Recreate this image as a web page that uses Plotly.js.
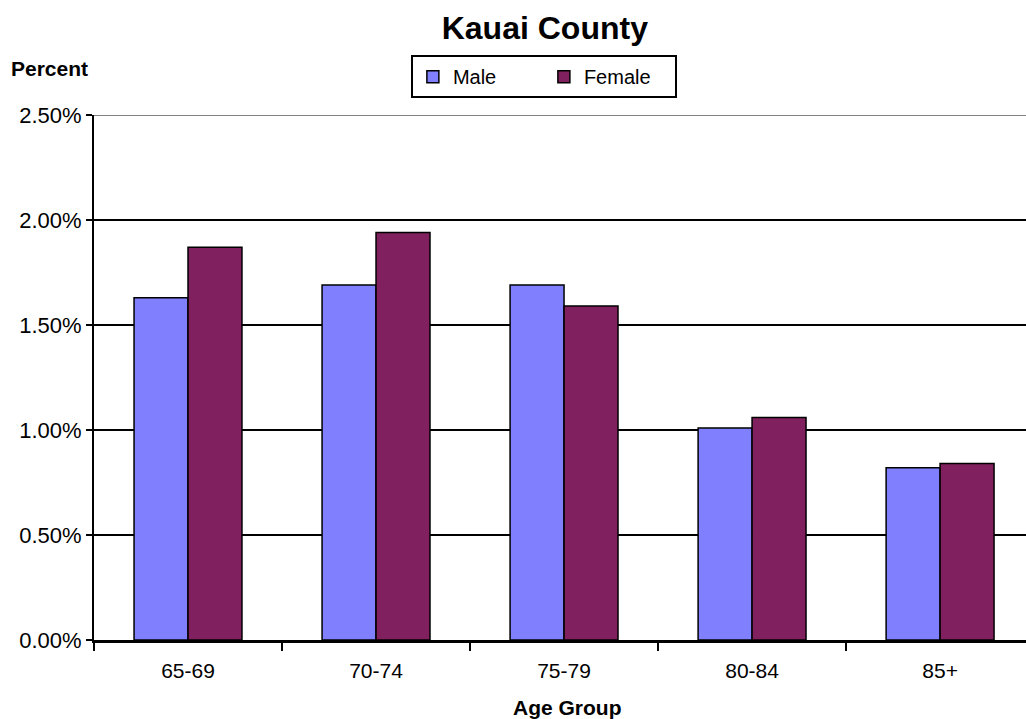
<!DOCTYPE html>
<html>
<head>
<meta charset="utf-8">
<script src="https://cdn.plot.ly/plotly-3.0.1.min.js"></script>
<style>
  html, body { margin: 0; padding: 0; background: #fff; }
  #chart { width: 1026px; height: 719px; }
</style>
</head>
<body>
<div id="chart"></div>
<script>
// age groups and share of county population (percent)
const ageGroups = ["65-69", "70-74", "75-79", "80-84", "85+"];
const male = [1.63, 1.69, 1.69, 1.01, 0.82];
const female = [1.87, 1.94, 1.59, 1.06, 0.84];
const yTicks = [0, 0.5, 1, 1.5, 2, 2.5];
const yTickText = yTicks.map((v) => v.toFixed(2) + "%");

const FONT = "Liberation Sans, Arial, sans-serif";

const maleBars = {
  x: ageGroups,
  y: male,
  type: "bar",
  name: "Male",
  marker: { color: "#8080ff", line: { color: "#000", width: 1.5 } },
};
const femaleBars = {
  x: ageGroups,
  y: female,
  type: "bar",
  name: "Female",
  marker: { color: "#80205f", line: { color: "#000", width: 1.5 } },
};

const layout = {
  width: 1026,
  height: 719,
  margin: { l: 94, r: 0, t: 115, b: 79 },
  paper_bgcolor: "#fff",
  plot_bgcolor: "#fff",
  font: { family: FONT, color: "#000", size: 20 },
  title: {
    text: "<b>Kauai County</b>",
    font: { size: 32, family: FONT },
    x: 0.531, xanchor: "center",
    y: 0.962, yanchor: "middle",
  },
  barmode: "group",
  bargap: 0.426,
  bargroupgap: 0,
  showlegend: true,
  legend: {
    orientation: "h",
    x: 0.34, xanchor: "left",
    y: 1.114, yanchor: "top",
    bordercolor: "#000",
    borderwidth: 2,
    font: { size: 20, family: FONT },
    entrywidth: 86,
    entrywidthmode: "pixels",
  },
  xaxis: {
    type: "category",
    range: [-0.5, 4.457],
    showgrid: false,
    showline: true,
    linecolor: "#000",
    linewidth: 3,
    ticks: "outside",
    tickson: "boundaries",
    ticklen: 8,
    tickwidth: 1.5,
    tickcolor: "#000",
    ticklabelstandoff: 10,
    tickfont: { size: 21, family: FONT },
  },
  yaxis: {
    range: [0, 2.5],
    tickvals: yTicks,
    ticktext: yTickText,
    showgrid: true,
    gridcolor: "#000",
    gridwidth: 2,
    zeroline: false,
    showline: true,
    linecolor: "#000",
    linewidth: 2,
    ticks: "outside",
    ticklen: 6,
    tickwidth: 2,
    tickcolor: "#000",
    tickfont: { size: 22, family: FONT },
  },
  shapes: [{
    type: "line", xref: "paper", yref: "y",
    x0: 0, x1: 1, y0: 2.5, y1: 2.5,
    line: { color: "#808080", width: 2 },
  }],
  annotations: [
    {
      text: "<b>Percent</b>",
      xref: "paper", yref: "paper",
      x: -0.048, y: 1.088,
      xanchor: "center", yanchor: "middle",
      showarrow: false,
      font: { size: 21, family: FONT },
    },
    {
      text: "<b>Age Group</b>",
      xref: "paper", yref: "paper",
      x: 0.508, y: -0.128,
      xanchor: "center", yanchor: "middle",
      showarrow: false,
      font: { size: 21, family: FONT },
    },
  ],
};

Plotly.newPlot("chart", [maleBars, femaleBars], layout, { displayModeBar: false });
</script>
</body>
</html>
